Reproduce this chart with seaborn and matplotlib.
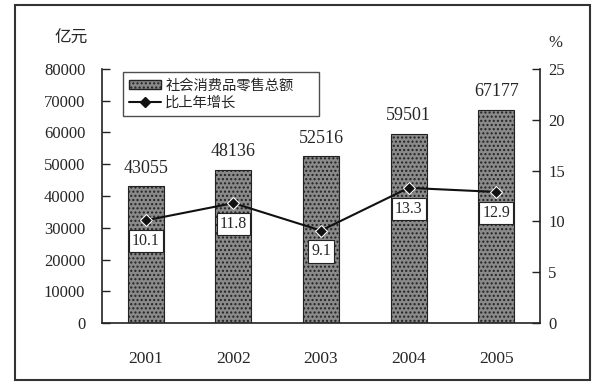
import matplotlib
matplotlib.use("Agg")
import matplotlib.pyplot as plt
import seaborn as sns
import pandas as pd
from matplotlib.patches import Rectangle
from matplotlib.lines import Line2D

years = ["2001", "2002", "2003", "2004", "2005"]
sales = [43055, 48136, 52516, 59501, 67177]
growth = [10.1, 11.8, 9.1, 13.3, 12.9]
left_ticks = [0, 10000, 20000, 30000, 40000, 50000, 60000, 70000, 80000]
right_ticks = [0, 5, 10, 15, 20, 25]
legend_labels = ["社会消费品零售总额", "比上年增长"]

sns.set_theme(style="white")
plt.rcParams['font.family'] = ['Liberation Serif', 'Noto Sans CJK SC']
plt.rcParams['hatch.color'] = '#5a5a5a'

df = pd.DataFrame({"year": years, "sales": sales, "growth": growth})

fig = plt.figure(figsize=(5.98, 3.87), dpi=100)
ax = fig.add_axes([102/598, 1-323/387, 438/598, 254/387])

sns.barplot(data=df, x="year", y="sales", ax=ax, width=0.41,
            color="#8a8a8a", edgecolor="#222222", linewidth=0.8, saturation=1)
for p in ax.patches:
    p.set_hatch("....")
ax.set_xlim(-0.5, 4.5)
ax.set_ylim(0, 80000)
ax.set_yticks(left_ticks)
ax.set_yticklabels([str(v) for v in left_ticks], fontsize=12)
ax.set_xlabel("")
ax.set_ylabel("")
ax.set_xticks(range(len(years)))
ax.set_xticklabels(years, fontsize=12.5)
ax.set_xticks([0.5, 1.5, 2.5, 3.5], minor=True)
ax.tick_params(axis='x', which='major', length=0, pad=20)
ax.tick_params(axis='x', which='minor', length=5, direction='in', width=1, color='#222222')
ax.tick_params(axis='y', length=6, direction='in', width=1, color='#222222', pad=12)
for s in ["left", "bottom"]:
    ax.spines[s].set_color('#222222')
    ax.spines[s].set_linewidth(1.2)
ax.spines["top"].set_visible(False)
ax.spines["right"].set_visible(False)

for i, v in enumerate(sales):
    ax.annotate(str(v), (i, v), xytext=(0, 7), textcoords='offset points',
                ha='center', va='bottom', fontsize=13)

ax2 = ax.twinx()
sns.lineplot(data=df, x="year", y="growth", ax=ax2, color="#111111",
             marker="D", markersize=6, linewidth=1.5, sort=False)
ax2.set_ylim(0, 25)
ax2.set_yticks(right_ticks)
ax2.set_yticklabels([str(v) for v in right_ticks], fontsize=12)
ax2.set_ylabel("")
ax2.tick_params(axis='y', length=6, direction='in', width=1, color='#222222', pad=6)
ax2.spines["right"].set_color('#222222')
ax2.spines["right"].set_linewidth(1.2)
ax2.spines["top"].set_visible(False)
ax2.spines["left"].set_visible(False)
ax2.spines["bottom"].set_visible(False)

for i, v in enumerate(growth):
    ax2.annotate(f"{v}", (i, v), xytext=(0, -15), textcoords='offset points',
                 ha='center', va='center', fontsize=11.5,
                 bbox=dict(boxstyle='square,pad=0.2', fc='white', ec='#222222', lw=0.8))

handles = [Rectangle((0, 0), 1, 1, fc="#8a8a8a", ec="#222222", hatch="...."),
           Line2D([0], [0], color="#111111", marker="D", markersize=5, linewidth=1.5)]
leg = ax.legend(handles, legend_labels, loc='upper left',
                bbox_to_anchor=(21/438, 0, 196/438, 251/254), mode='expand',
                borderaxespad=0, frameon=True, fancybox=False,
                prop={'family': ['Noto Sans CJK SC'], 'size': 10.3},
                handlelength=2.2, handleheight=0.6, handletextpad=0.3,
                borderpad=0.45, labelspacing=0.25)
leg.get_frame().set_edgecolor('#222222')
leg.get_frame().set_linewidth(1.0)
leg.set_zorder(10)

fig.text(71/598, 1-38/387, "亿元", ha='center', va='center', fontsize=12,
         family=['Noto Sans CJK SC'])
fig.text(555/598, 1-43/387, "%", ha='center', va='center', fontsize=12)

fig.patches.append(Rectangle((15/598, 1-380/387), 575/598, 375/387,
                             transform=fig.transFigure, fill=False,
                             ec='#333333', lw=1.5))

fig.savefig("out.png", dpi=100)
